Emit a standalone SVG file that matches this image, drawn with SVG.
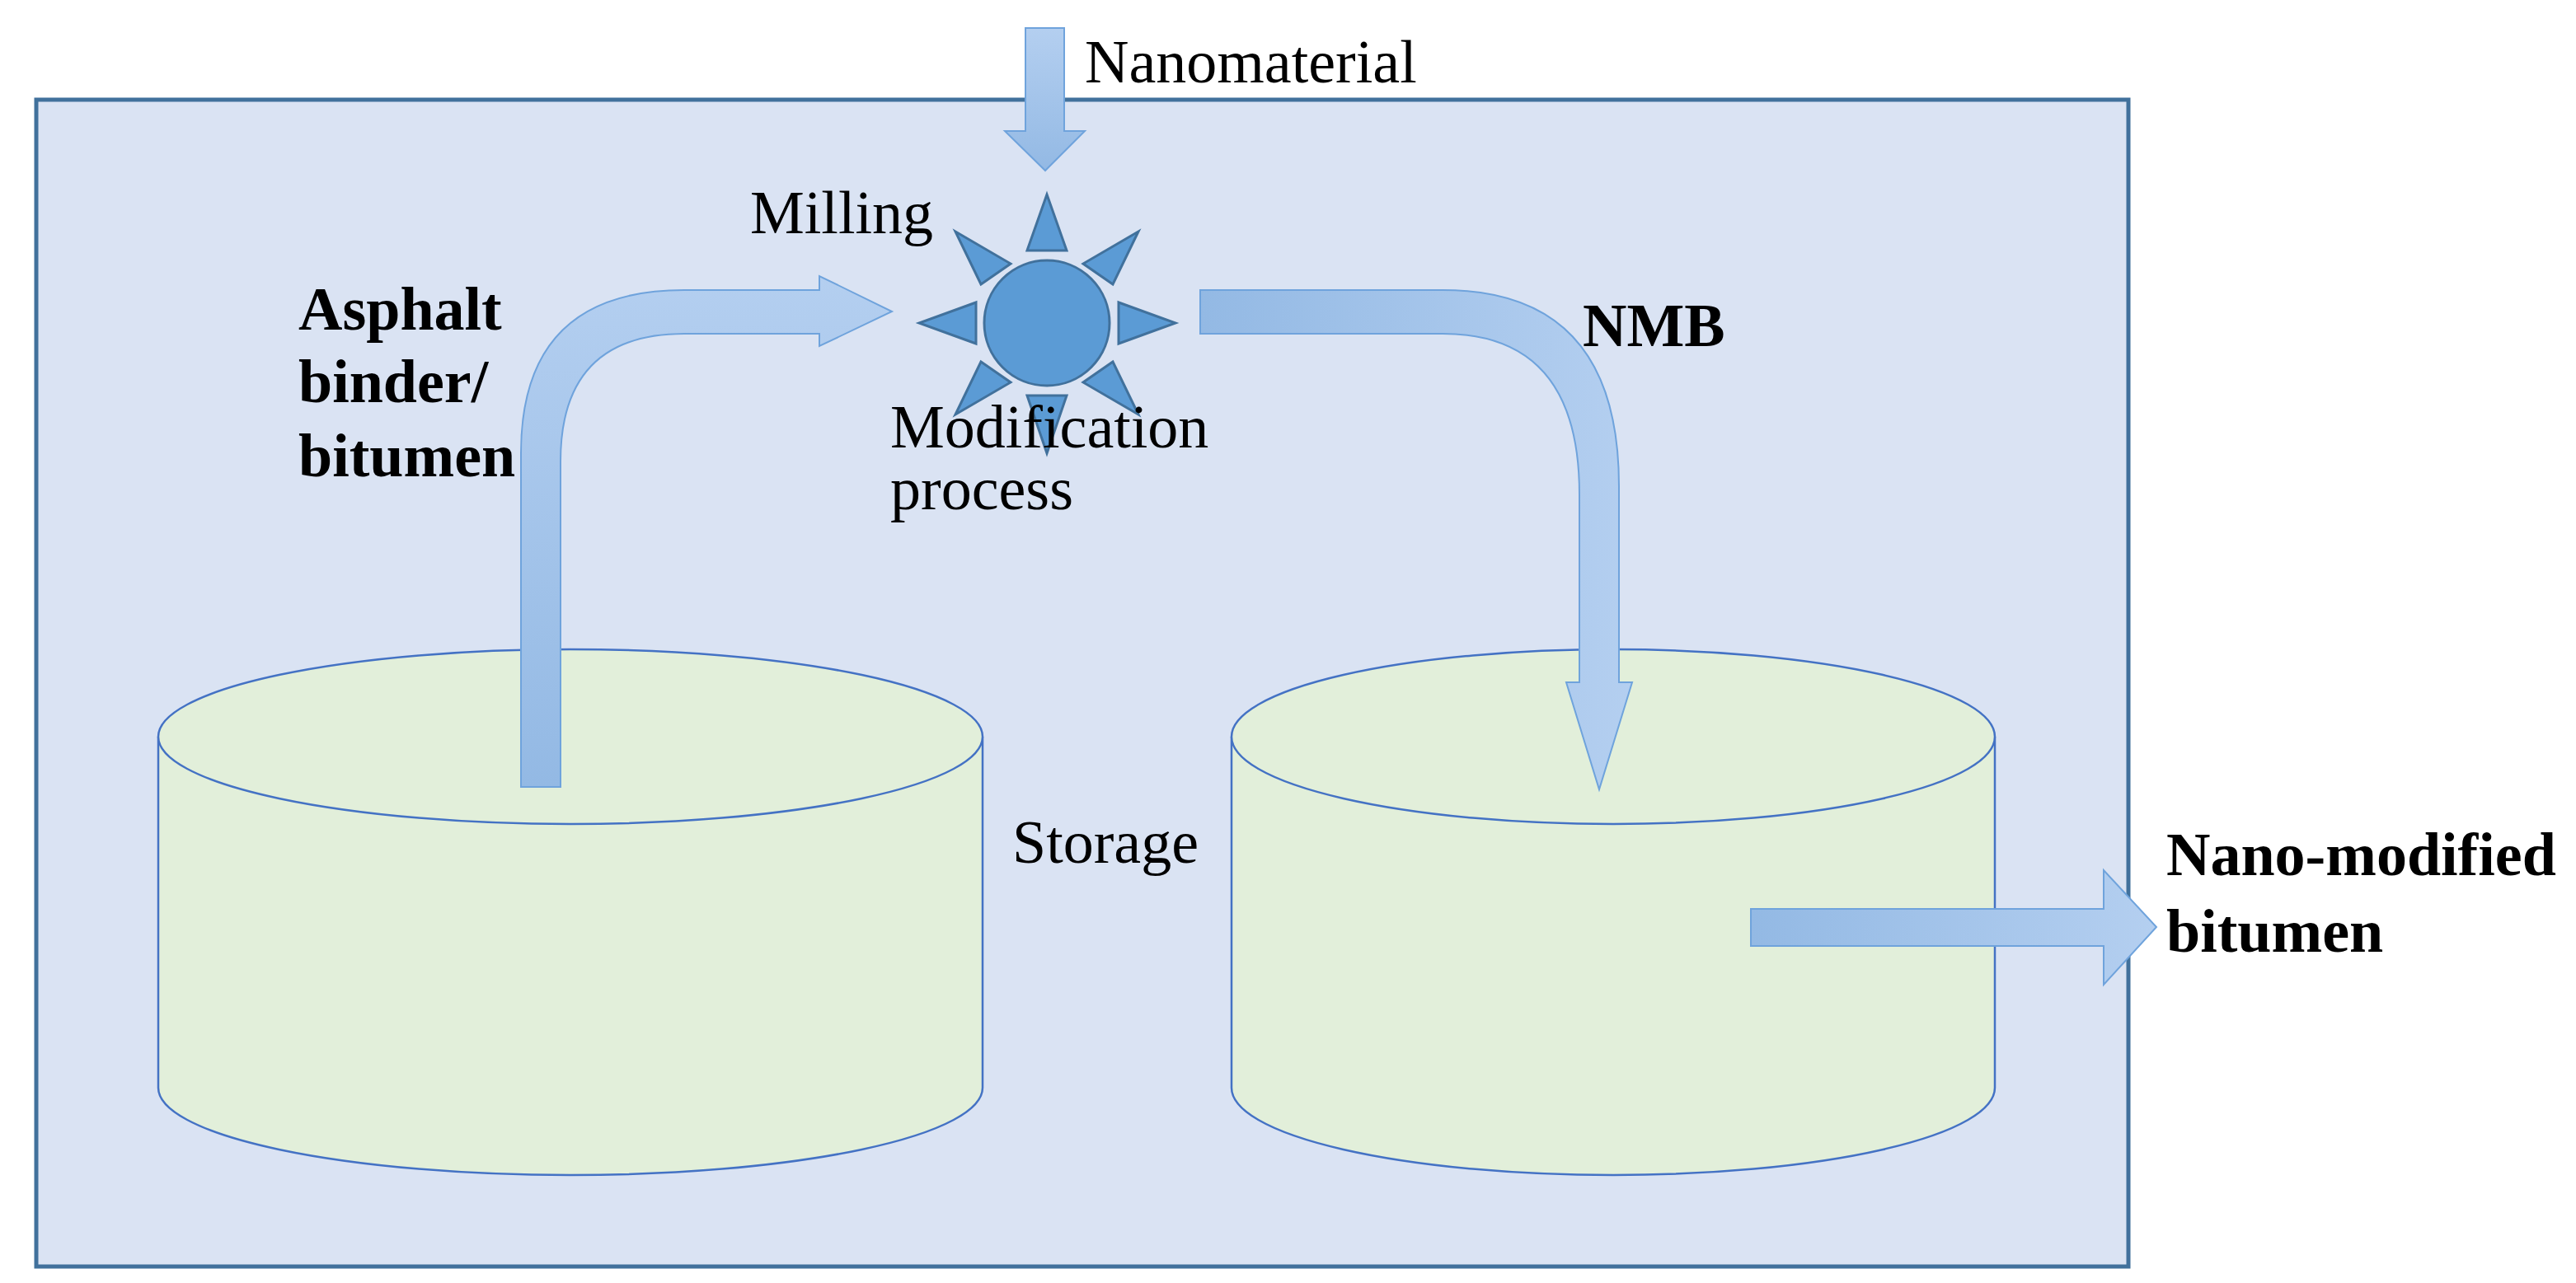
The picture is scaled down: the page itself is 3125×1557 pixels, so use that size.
<svg xmlns="http://www.w3.org/2000/svg" width="3125" height="1557" viewBox="0 0 3125 1557">
<defs>
<linearGradient id="gv" x1="0" y1="0" x2="0" y2="1"><stop offset="0" stop-color="#b4cff0"/><stop offset="1" stop-color="#93b9e4"/></linearGradient>
<linearGradient id="gh" x1="0" y1="0" x2="1" y2="0"><stop offset="0" stop-color="#93b9e4"/><stop offset="1" stop-color="#b4cff0"/></linearGradient>
<linearGradient id="gu" x1="0" y1="1" x2="0" y2="0"><stop offset="0" stop-color="#93b9e4"/><stop offset="1" stop-color="#b4cff0"/></linearGradient>
<style>
.arr{stroke:#6fa3dc;stroke-width:2}
.cyl{fill:#e2efda;stroke:#4472c4;stroke-width:2.5}
.ray{fill:#5b9bd5;stroke:#41719c;stroke-width:3}
.t{font-family:"Liberation Serif",serif;font-size:74px;fill:#000}
.b{font-weight:bold}
</style>
</defs>
<rect x="44" y="121" width="2538" height="1416" fill="#dae3f3" stroke="#41719c" stroke-width="5"/>
<g id="tank-left">
<path class="cyl" d="M192,894 L192,1320 A500,106 0 0 0 1192,1320 L1192,894"/>
<ellipse class="cyl" cx="692" cy="894" rx="500" ry="106"/>
</g>
<g id="tank-right">
<path class="cyl" d="M1494,894 L1494,1320 A463,106 0 0 0 2420,1320 L2420,894"/>
<ellipse class="cyl" cx="1957" cy="894" rx="463" ry="106"/>
</g>
<g id="mill">
<circle class="ray" cx="1270" cy="392" r="76"/>
<g class="ray">
<polygon points="1246,304 1294,304 1270,236"/>
<polygon points="1246,480 1294,480 1270,550"/>
<polygon points="1357,367 1357,417 1426,392"/>
<polygon points="1184,367 1184,417 1115,392"/>
<polygon points="1159,281 1226,320 1190,345" />
<polygon points="1381,281 1314,320 1350,345" />
<polygon points="1159,503 1226,464 1190,439" />
<polygon points="1381,503 1314,464 1350,439" />
</g>
</g>
<g id="connectors">
<path class="arr" fill="url(#gv)" d="M1244,34 L1291,34 L1291,159 L1316,159 L1268,207 L1219,159 L1244,159 Z"/>
<path class="arr" fill="url(#gu)" d="M632,955 L632,550 Q632,352 830,352 L994,352 L994,335 L1082,378 L994,420 L994,405 L830,405 Q680,405 680,560 L680,955 Z"/>
<path class="arr" fill="url(#gh)" d="M1456,352 L1750,352 Q1964,352 1964,590 L1964,828 L1980,828 L1940,958 L1900,828 L1916,828 L1916,600 Q1916,405 1750,405 L1456,405 Z"/>
<path class="arr" fill="url(#gh)" d="M2124,1103 L2552,1103 L2552,1056 L2616,1125 L2552,1195 L2552,1148 L2124,1148 Z"/>
</g>
<g id="labels">
<text class="t" x="1316" y="100">Nanomaterial</text>
<text class="t" x="910" y="283">Milling</text>
<text class="t" x="1080" y="543" font-size="64">Modification</text>
<text class="t" x="1080" y="618" font-size="64">process</text>
<text class="t b" x="362" y="400">Asphalt</text>
<text class="t b" x="362" y="488">binder/</text>
<text class="t b" x="362" y="578">bitumen</text>
<text class="t b" x="1920" y="420">NMB</text>
<text class="t" x="1228" y="1047">Storage</text>
<text class="t b" x="2628" y="1062">Nano-modified</text>
<text class="t b" x="2628" y="1155">bitumen</text>
</g>
</svg>
